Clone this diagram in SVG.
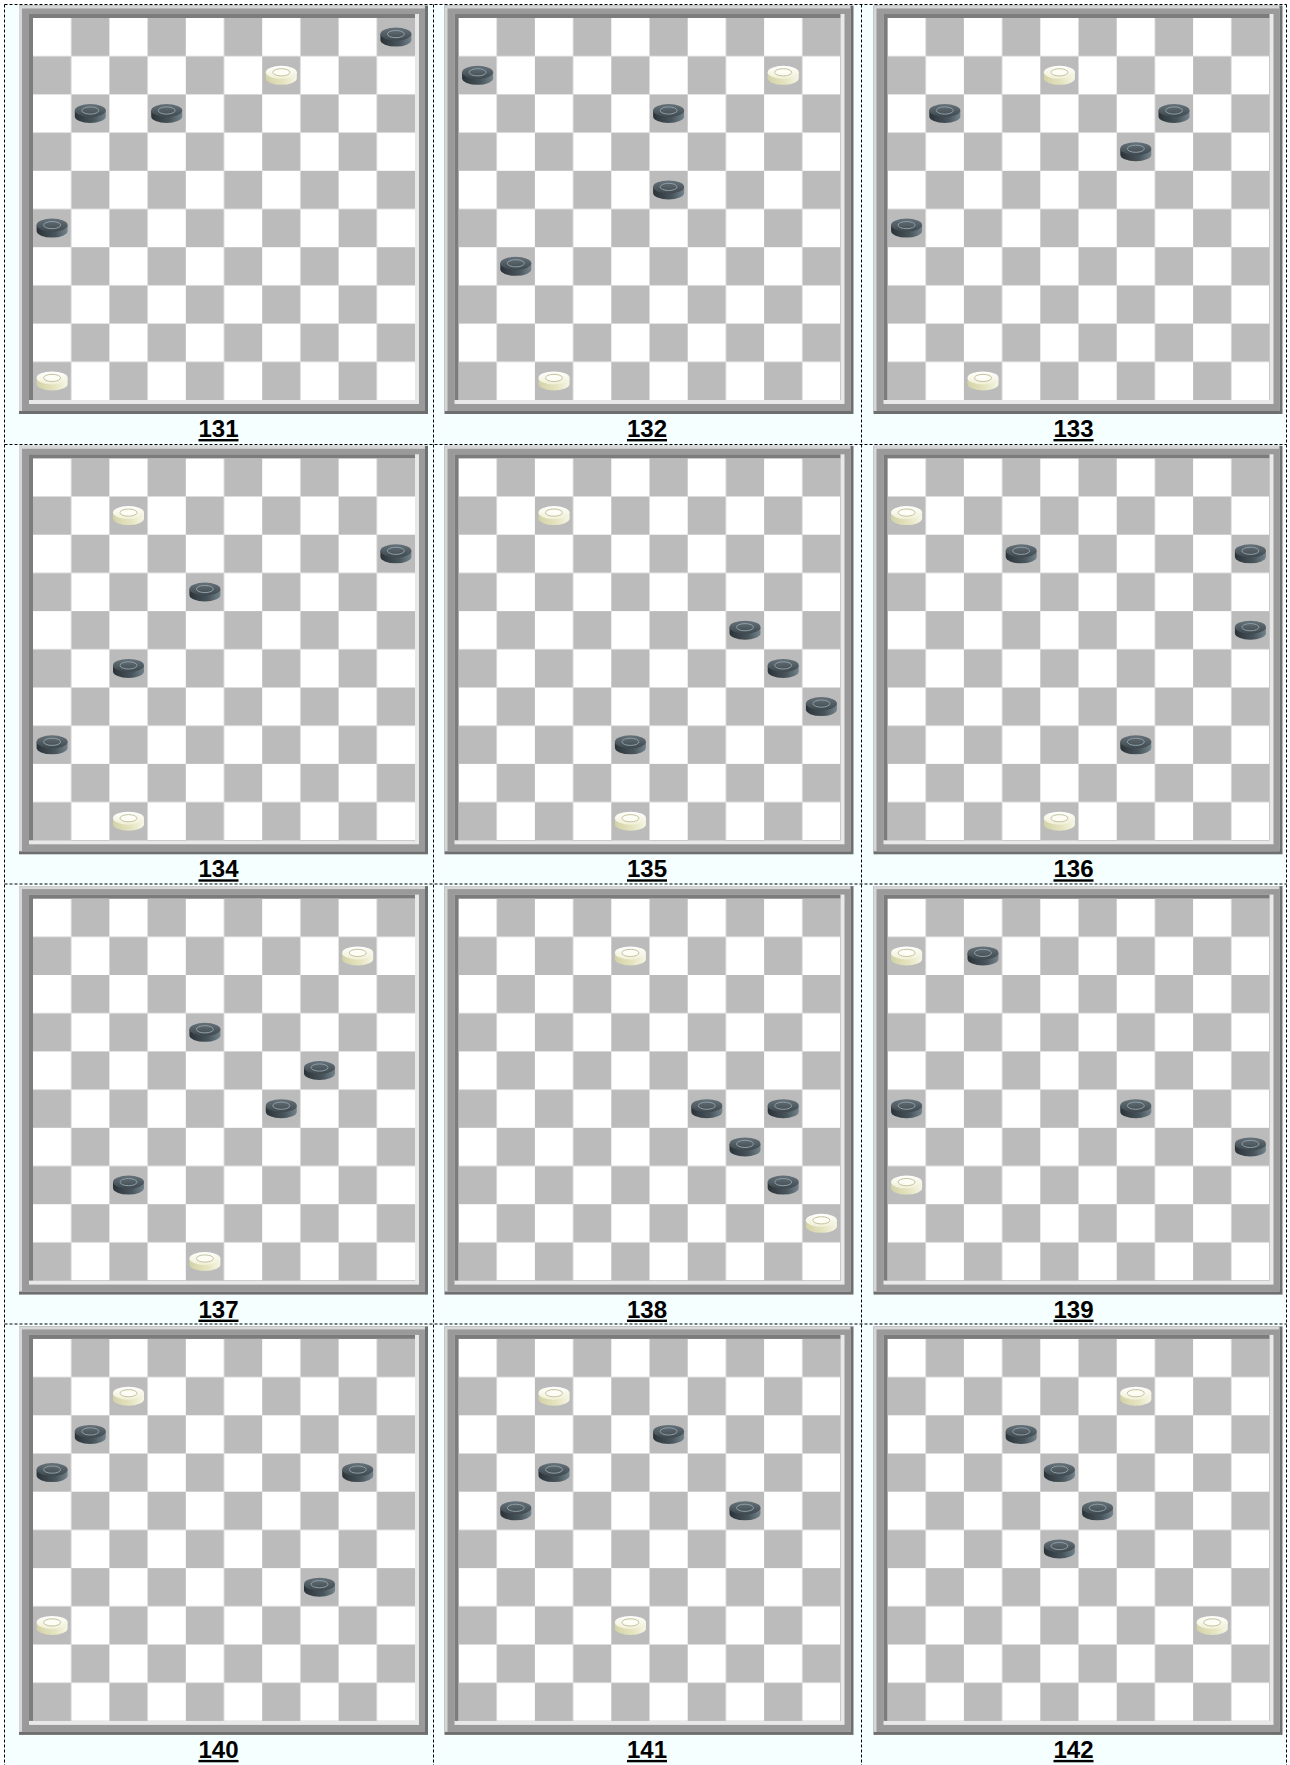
<svg xmlns="http://www.w3.org/2000/svg" xmlns:xlink="http://www.w3.org/1999/xlink" width="1290" height="1765" viewBox="0 0 1290 1765">
<style>
.lbl{font-family:"Liberation Sans",Arial,sans-serif;font-weight:bold;font-size:24px;text-decoration:underline;text-anchor:middle;fill:#000}
.grid line{stroke:#000;stroke-width:1;stroke-dasharray:3 2;fill:none}
</style>
<defs>
<pattern id="chk" patternUnits="userSpaceOnUse" width="76.4" height="76.4">
<rect width="76.4" height="76.4" fill="#ffffff"/>
<rect x="38.2" y="0" width="38.2" height="38.2" fill="#bbbbbb"/>
<rect x="0" y="38.2" width="38.2" height="38.2" fill="#bbbbbb"/>
</pattern>
<linearGradient id="dkTop" x1="0" y1="0" x2="0" y2="1">
<stop offset="0" stop-color="#66727a"/><stop offset="1" stop-color="#3e484e"/>
</linearGradient>
<linearGradient id="dkSide" x1="0" y1="0" x2="1" y2="0">
<stop offset="0" stop-color="#2b3338"/><stop offset="0.6" stop-color="#48545b"/><stop offset="1" stop-color="#72838c"/>
</linearGradient>
<linearGradient id="wtTop" x1="0" y1="0" x2="0" y2="1">
<stop offset="0" stop-color="#ffffff"/><stop offset="1" stop-color="#f0efd6"/>
</linearGradient>
<linearGradient id="wtSide" x1="0" y1="0" x2="1" y2="0">
<stop offset="0" stop-color="#d3d2a6"/><stop offset="0.6" stop-color="#e6e5c2"/><stop offset="1" stop-color="#f6f6e6"/>
</linearGradient>
<g id="board">
<rect x="-14" y="-12.5" width="409" height="408.5" fill="#6e6e6e"/>
<rect x="-14" y="-12.5" width="406" height="405.5" fill="#d6d6d6"/>
<rect x="-11" y="-9.5" width="403" height="402.5" fill="#9a9a9a"/>
<rect x="-4" y="-4" width="390" height="390" fill="#e8e8e8"/>
<rect x="-4" y="-4" width="386" height="386" fill="#7c7c7c"/>
<rect x="0" y="0" width="382" height="382" fill="url(#chk)"/>
</g>
<g id="dk">
<path d="M-15.5,-3 V3 A15.5,6.5 0 0 0 15.5,3 V-3 Z" fill="url(#dkSide)"/>
<ellipse cx="0" cy="-3" rx="15.5" ry="6.5" fill="url(#dkTop)"/>
<ellipse cx="0" cy="-3" rx="8.5" ry="3.6" fill="none" stroke="#8f9ea6" stroke-width="1"/>
</g>
<g id="wt">
<path d="M-15.5,-3 V3 A15.5,6.5 0 0 0 15.5,3 V-3 Z" fill="url(#wtSide)"/>
<ellipse cx="0" cy="-3" rx="15.5" ry="6.5" fill="url(#wtTop)"/>
<ellipse cx="0" cy="-3" rx="8.5" ry="3.6" fill="#fdfdf6" stroke="#c4c3a0" stroke-width="1"/>
</g>
</defs>
<rect x="0" y="0" width="1290" height="1765" fill="#ffffff"/>
<rect x="4.5" y="4.5" width="1282" height="1761" fill="#f5ffff"/>
<g id="connectors" class="grid">
<line x1="4.5" y1="4.5" x2="4.5" y2="1765"/>
<line x1="433.5" y1="4.5" x2="433.5" y2="1765"/>
<line x1="861.5" y1="4.5" x2="861.5" y2="1765"/>
<line x1="1286.5" y1="4.5" x2="1286.5" y2="1765"/>
<line x1="4.5" y1="4.5" x2="1286.5" y2="4.5"/>
<line x1="4.5" y1="444.5" x2="1286.5" y2="444.5"/>
<line x1="4.5" y1="884" x2="1286.5" y2="884"/>
<line x1="4.5" y1="1324" x2="1286.5" y2="1324"/>
</g>
<g id="b131" transform="translate(33,18)">
<use href="#board"/>
<use href="#dk" x="362.9" y="19.1"/><use href="#wt" x="248.3" y="57.3"/><use href="#dk" x="57.3" y="95.5"/><use href="#dk" x="133.7" y="95.5"/><use href="#dk" x="19.1" y="210.1"/><use href="#wt" x="19.1" y="362.9"/>
<text class="lbl" x="185.5" y="419">131</text>
</g>
<g id="b132" transform="translate(458.5,18)">
<use href="#board"/>
<use href="#dk" x="19.1" y="57.3"/><use href="#wt" x="324.7" y="57.3"/><use href="#dk" x="210.1" y="95.5"/><use href="#dk" x="210.1" y="171.9"/><use href="#dk" x="57.3" y="248.3"/><use href="#wt" x="95.5" y="362.9"/>
<text class="lbl" x="188.5" y="419">132</text>
</g>
<g id="b133" transform="translate(887.5,18)">
<use href="#board"/>
<use href="#wt" x="171.9" y="57.3"/><use href="#dk" x="57.3" y="95.5"/><use href="#dk" x="286.5" y="95.5"/><use href="#dk" x="248.3" y="133.7"/><use href="#dk" x="19.1" y="210.1"/><use href="#wt" x="95.5" y="362.9"/>
<text class="lbl" x="186" y="419">133</text>
</g>
<g id="b134" transform="translate(33,458.3)">
<use href="#board"/>
<use href="#wt" x="95.5" y="57.3"/><use href="#dk" x="362.9" y="95.5"/><use href="#dk" x="171.9" y="133.7"/><use href="#dk" x="95.5" y="210.1"/><use href="#dk" x="19.1" y="286.5"/><use href="#wt" x="95.5" y="362.9"/>
<text class="lbl" x="185.5" y="419">134</text>
</g>
<g id="b135" transform="translate(458.5,458.3)">
<use href="#board"/>
<use href="#wt" x="95.5" y="57.3"/><use href="#dk" x="286.5" y="171.9"/><use href="#dk" x="324.7" y="210.1"/><use href="#dk" x="362.9" y="248.3"/><use href="#dk" x="171.9" y="286.5"/><use href="#wt" x="171.9" y="362.9"/>
<text class="lbl" x="188.5" y="419">135</text>
</g>
<g id="b136" transform="translate(887.5,458.3)">
<use href="#board"/>
<use href="#wt" x="19.1" y="57.3"/><use href="#dk" x="133.7" y="95.5"/><use href="#dk" x="362.9" y="95.5"/><use href="#dk" x="362.9" y="171.9"/><use href="#dk" x="248.3" y="286.5"/><use href="#wt" x="171.9" y="362.9"/>
<text class="lbl" x="186" y="419">136</text>
</g>
<g id="b137" transform="translate(33,898.6)">
<use href="#board"/>
<use href="#wt" x="324.7" y="57.3"/><use href="#dk" x="171.9" y="133.7"/><use href="#dk" x="286.5" y="171.9"/><use href="#dk" x="248.3" y="210.1"/><use href="#dk" x="95.5" y="286.5"/><use href="#wt" x="171.9" y="362.9"/>
<text class="lbl" x="185.5" y="419">137</text>
</g>
<g id="b138" transform="translate(458.5,898.6)">
<use href="#board"/>
<use href="#wt" x="171.9" y="57.3"/><use href="#dk" x="248.3" y="210.1"/><use href="#dk" x="324.7" y="210.1"/><use href="#dk" x="286.5" y="248.3"/><use href="#dk" x="324.7" y="286.5"/><use href="#wt" x="362.9" y="324.7"/>
<text class="lbl" x="188.5" y="419">138</text>
</g>
<g id="b139" transform="translate(887.5,898.6)">
<use href="#board"/>
<use href="#wt" x="19.1" y="57.3"/><use href="#dk" x="95.5" y="57.3"/><use href="#dk" x="19.1" y="210.1"/><use href="#dk" x="248.3" y="210.1"/><use href="#dk" x="362.9" y="248.3"/><use href="#wt" x="19.1" y="286.5"/>
<text class="lbl" x="186" y="419">139</text>
</g>
<g id="b140" transform="translate(33,1338.9)">
<use href="#board"/>
<use href="#wt" x="95.5" y="57.3"/><use href="#dk" x="57.3" y="95.5"/><use href="#dk" x="19.1" y="133.7"/><use href="#dk" x="324.7" y="133.7"/><use href="#dk" x="286.5" y="248.3"/><use href="#wt" x="19.1" y="286.5"/>
<text class="lbl" x="185.5" y="419">140</text>
</g>
<g id="b141" transform="translate(458.5,1338.9)">
<use href="#board"/>
<use href="#wt" x="95.5" y="57.3"/><use href="#dk" x="210.1" y="95.5"/><use href="#dk" x="95.5" y="133.7"/><use href="#dk" x="57.3" y="171.9"/><use href="#dk" x="286.5" y="171.9"/><use href="#wt" x="171.9" y="286.5"/>
<text class="lbl" x="188.5" y="419">141</text>
</g>
<g id="b142" transform="translate(887.5,1338.9)">
<use href="#board"/>
<use href="#wt" x="248.3" y="57.3"/><use href="#dk" x="133.7" y="95.5"/><use href="#dk" x="171.9" y="133.7"/><use href="#dk" x="210.1" y="171.9"/><use href="#dk" x="171.9" y="210.1"/><use href="#wt" x="324.7" y="286.5"/>
<text class="lbl" x="186" y="419">142</text>
</g>
</svg>
